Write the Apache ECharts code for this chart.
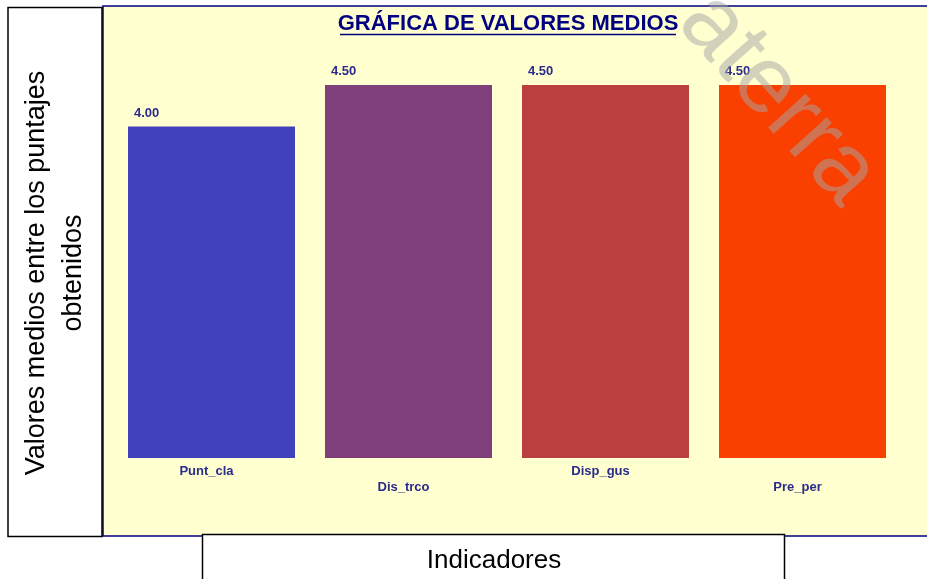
<!DOCTYPE html>
<html>
<head>
<meta charset="utf-8">
<script src="https://cdn.jsdelivr.net/npm/echarts@6/dist/echarts.min.js"></script>
<style>
html,body{margin:0;padding:0;background:#fff;}
#c{width:927px;height:579px;}
</style>
</head>
<body>
<div id="c"></div>
<script>
var categories = ['Punt_cla', 'Dis_trco', 'Disp_gus', 'Pre_per'];
var values = [4.00, 4.50, 4.50, 4.50];
var barColors = ['#4042BB', '#7E3F7A', '#BA4040', '#FA4000'];
var titleText = 'GRÁFICA DE VALORES MEDIOS';
var yTitle = 'Valores medios entre los puntajes\nobtenidos';
var xTitle = 'Indicadores';
var watermark = 'aterra';

var chart = echarts.init(document.getElementById('c'));
var F = '"Liberation Sans", Arial, sans-serif';

chart.setOption({
  animation: false,
  backgroundColor: '#ffffff',
  graphic: [
    { type: 'rect', z: -10, shape: { x: 103, y: 6, width: 830, height: 530 },
      style: { fill: '#FFFFD0', stroke: '#000080', lineWidth: 1.5 } },
    { type: 'rect', z: -5, shape: { x: 8, y: 7.5, width: 94, height: 529 },
      style: { fill: '#ffffff', stroke: '#000000', lineWidth: 1.5 } },
    { type: 'text', z: -4, x: 55, y: 273, rotation: Math.PI / 2,
      style: { text: yTitle, font: '27px ' + F, fill: '#000000', align: 'center', verticalAlign: 'middle', lineHeight: 37 } },
    { type: 'rect', z: -5, shape: { x: 202.5, y: 534.5, width: 582, height: 60 },
      style: { fill: '#ffffff', stroke: '#000000', lineWidth: 1.5 } },
    { type: 'text', z: -4, x: 494, y: 561,
      style: { text: xTitle, font: '26px ' + F, fill: '#000000', align: 'center', verticalAlign: 'middle' } },
    { type: 'text', z: 5, x: 508, y: 24,
      style: { text: titleText, font: 'bold 22px ' + F, fill: '#000080', align: 'center', verticalAlign: 'middle' } },
    { type: 'line', z: 5, shape: { x1: 340, y1: 34.5, x2: 676, y2: 34.5 },
      style: { stroke: '#000080', lineWidth: 1.5 } },
    { type: 'text', z: 100, x: 778, y: 99, rotation: -0.84,
      style: { text: watermark, font: '95px ' + F, fill: 'rgba(165,165,165,0.5)', align: 'center', verticalAlign: 'middle' } }
  ],
  grid: { left: 113, width: 788, top: 85, bottom: 121, containLabel: false },
  xAxis: {
    type: 'category',
    data: categories,
    axisLine: { show: false },
    axisTick: { show: false },
    axisLabel: {
      interval: 0,
      margin: 5,
      color: '#2B2B8C',
      fontFamily: F,
      fontWeight: 'bold',
      fontSize: 13,
      lineHeight: 16,
      padding: [0, 10, 0, 0],
      formatter: function (v, i) { return i % 2 === 1 ? '\n' + v : v; }
    }
  },
  yAxis: {
    type: 'value', min: 0, max: 4.5, show: false,
    splitLine: { show: false }
  },
  series: [{
    type: 'bar',
    barWidth: 167,
    data: values.map(function (v, i) {
      return { value: v, itemStyle: { color: barColors[i] } };
    }),
    label: {
      show: true,
      position: [6, -20],
      formatter: function (p) { return p.value.toFixed(2); },
      color: '#2B2B8C',
      fontFamily: F,
      fontWeight: 'bold',
      fontSize: 13
    }
  }]
});
</script>
</body>
</html>
